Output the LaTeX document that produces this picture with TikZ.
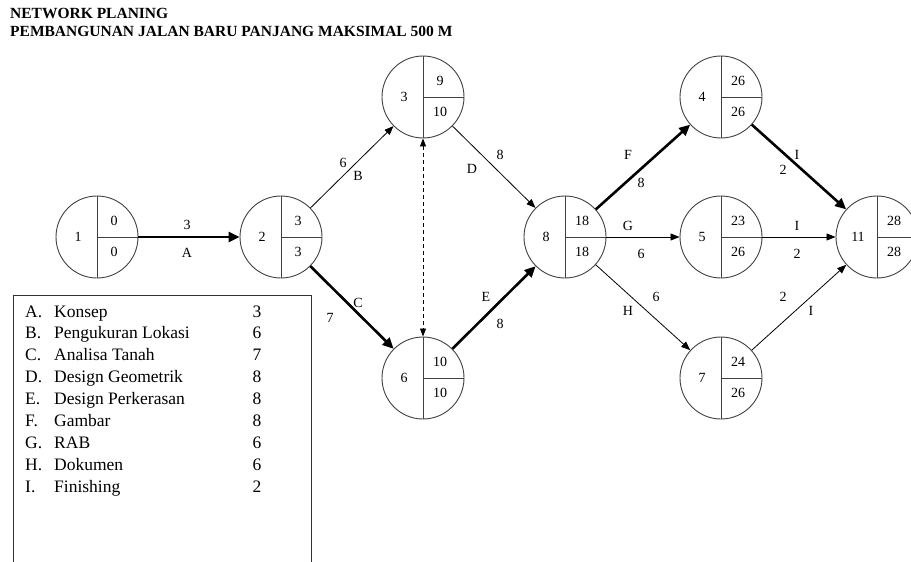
\documentclass[tikz,border=0pt]{standalone}
\usepackage{fontspec}
\setmainfont{Liberation Serif}
\usetikzlibrary{arrows.meta}

% event circle: number left, earliest time top right, latest time bottom right
\newcommand{\evnode}[5]{%
  \node[ev] (#1) at (#2) {};
  \draw[div] (#1.north) -- (#1.south) (#1.center) -- (#1.east);
  \node[num] (#1-no) at ([shift={(-19,0)}]#1.center) {#3};
  \node[num] (#1-es) at ([shift={(17,-16)}]#1.center) {#4};
  \node[num] (#1-lf) at ([shift={(17,15)}]#1.center) {#5};
}

\begin{document}
\begin{tikzpicture}[x=1pt,y=-1pt,
  ev/.style={circle,draw=black!75,line width=0.9pt,minimum size=82pt,inner sep=0pt},
  div/.style={draw=black!75,line width=0.9pt},
  num/.style={font=\fontsize{14}{16}\selectfont,inner sep=0pt},
  lbl/.style={font=\fontsize{14}{16}\selectfont,inner sep=0pt,midway},
  ttl/.style={font=\bfseries\fontsize{15.5}{17}\selectfont,inner sep=0pt,anchor=base west},
  leg/.style={font=\fontsize{17.5}{20}\selectfont,inner sep=0pt,anchor=base west},
  act/.style={line width=0.8pt,-{Triangle[length=9pt,width=7pt]}},
  crit/.style={line width=2.6pt,-{Triangle[length=11pt,width=10pt]}},
  dummy/.style={line width=0.8pt,dash pattern=on 4pt off 3pt,{Triangle[length=8pt,width=6pt]}-{Triangle[length=8pt,width=6pt]}}]
\useasboundingbox (0,0) rectangle (911,562);

\node[ttl] (ttl1) at (10,19) {NETWORK PLANING};
\node[ttl] (ttl2) at (10,36) {PEMBANGUNAN JALAN BARU PANJANG MAKSIMAL 500 M};

% events
\evnode{n1}{97,237}{1}{0}{0}
\evnode{n2}{281,237}{2}{3}{3}
\evnode{n3}{423,97}{3}{9}{10}
\evnode{n6}{423,378}{6}{10}{10}
\evnode{n8}{565,237}{8}{18}{18}
\evnode{n4}{721,97}{4}{26}{26}
\evnode{n5}{721,237}{5}{23}{26}
\evnode{n7}{721,378}{7}{24}{26}
\evnode{n11}{877,237}{11}{28}{28}

% activities
\draw[crit] (n1) -- (n2) node[lbl,shift={(-2,-12)}] {3} node[lbl,shift={(-2,16)}] {A};
\draw[act] (n2) -- (n3) node[lbl,shift={(-9,-4)}] {6} node[lbl,shift={(6,9)}] {B};
\draw[crit] (n2) -- (n6) node[lbl,shift={(6,-5)}] {C} node[lbl,shift={(-22,10)}] {7};
\draw[dummy] (n3) -- (n6);
\draw[act] (n3) -- (n8) node[lbl,shift={(-22,2)}] {D} node[lbl,shift={(6,-12)}] {8};
\draw[crit] (n6) -- (n8) node[lbl,shift={(-8,-11)}] {E} node[lbl,shift={(6,16)}] {8};
\draw[crit] (n8) -- (n4) node[lbl,shift={(-15,-12)}] {F} node[lbl,shift={(-2,16)}] {8};
\draw[act] (n8) -- (n5) node[lbl,shift={(-15,-11)}] {G} node[lbl,shift={(-2,17)}] {6};
\draw[act] (n8) -- (n7) node[lbl,shift={(13,-11)}] {6} node[lbl,shift={(-15,3)}] {H};
\draw[crit] (n4) -- (n11) node[lbl,shift={(-2,-12)}] {I} node[lbl,shift={(-16,3)}] {2};
\draw[act] (n5) -- (n11) node[lbl,shift={(-2,-11)}] {I} node[lbl,shift={(-2,17)}] {2};
\draw[act] (n7) -- (n11) node[lbl,shift={(-16,-11)}] {2} node[lbl,shift={(12,3)}] {I};

% legend
\draw[line width=0.9pt,black!80] (13,295) rectangle (311,575);
\foreach \ltr/\nm/\dur [count=\i from 0] in {A/Konsep/3, B/Pengukuran Lokasi/6,
    C/Analisa Tanah/7, D/Design Geometrik/8, E/Design Perkerasan/8, F/Gambar/8,
    G/RAB/6, H/Dokumen/6, I/Finishing/2}{
  \node[leg] (legl\i) at (25,317+21.9*\i) {\ltr.};
  \node[leg] (legn\i) at (54,317+21.9*\i) {\nm};
  \node[leg,anchor=base] (legd\i) at (257,317+21.9*\i) {\dur};
}
\end{tikzpicture}
\end{document}
